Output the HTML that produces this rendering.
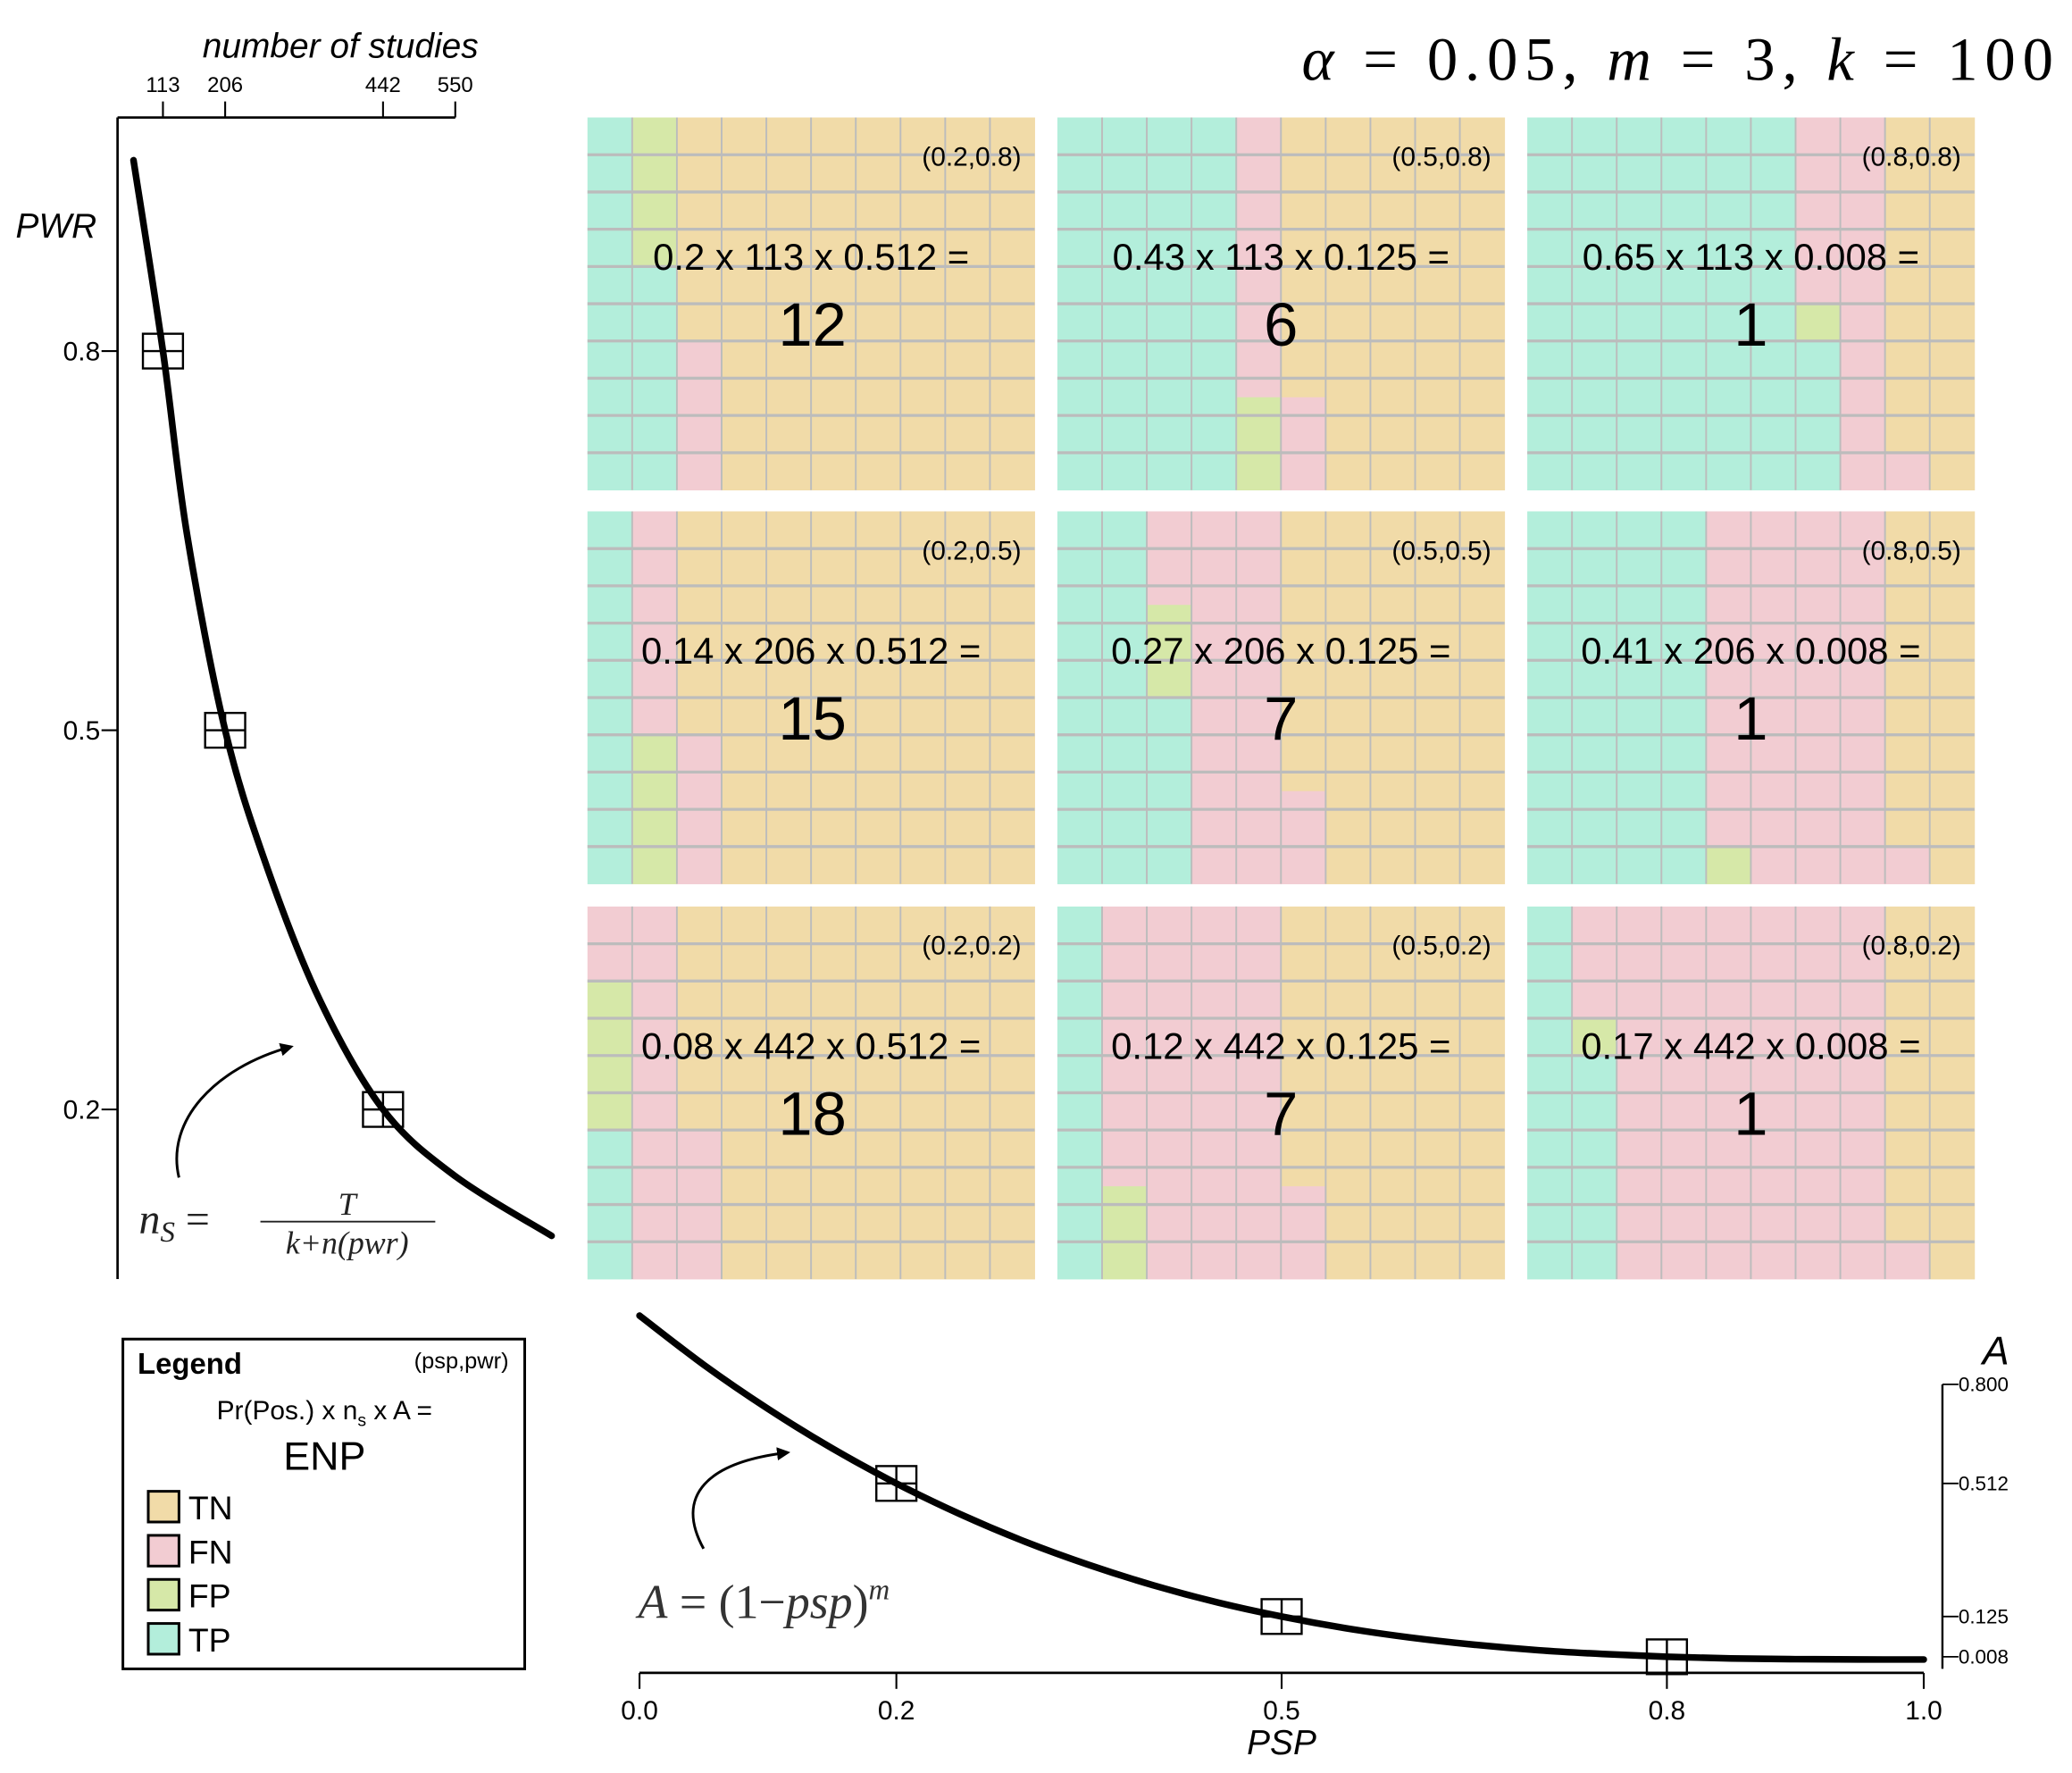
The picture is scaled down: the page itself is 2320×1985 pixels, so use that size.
<!DOCTYPE html>
<html><head><meta charset="utf-8">
<style>
html,body{margin:0;padding:0;background:#fff;}
svg{display:block;}
.sans{font-family:"Liberation Sans",sans-serif;}
.serif{font-family:"Liberation Serif",serif;}
</style></head>
<body>
<svg id="fig" width="2320" height="1985" viewBox="0 0 1552 1328" xmlns="http://www.w3.org/2000/svg">
<defs>
<marker id="ah" viewBox="0 0 10 10" refX="8" refY="5" markerWidth="5" markerHeight="5" orient="auto"><path d="M0,0 L10,5 L0,10 z" fill="#000"/></marker>
</defs>
<text class="serif" x="975" y="60" font-size="46" textLength="563" lengthAdjust="spacing"><tspan font-style="italic">α</tspan> = 0.05, <tspan font-style="italic">m</tspan> = 3, <tspan font-style="italic">k</tspan> = 100</text>
<g id="panels"></g>
<g id="left"></g>
<g id="bottom"></g>
<g>
<rect x="92" y="1003" width="301" height="247" fill="#fff" stroke="#000" stroke-width="2"/>
<text class="sans" x="103" y="1029" font-size="22" font-weight="bold">Legend</text>
<text class="sans" x="381" y="1025" font-size="17" text-anchor="end">(psp,pwr)</text>
<text class="sans" x="243" y="1063" font-size="20" text-anchor="middle">Pr(Pos.) x n<tspan font-size="13" dy="5">s</tspan><tspan dy="-5"> x A =</tspan></text>
<text class="sans" x="243" y="1101" font-size="30" text-anchor="middle">ENP</text>
<rect x="111" y="1117" width="23" height="23" fill="#f1dba8" stroke="#000" stroke-width="2"/>
<text class="sans" x="141" y="1138" font-size="25">TN</text>
<rect x="111" y="1150" width="23" height="23" fill="#f2ccd2" stroke="#000" stroke-width="2"/>
<text class="sans" x="141" y="1171" font-size="25">FN</text>
<rect x="111" y="1183" width="23" height="23" fill="#d6e8a8" stroke="#000" stroke-width="2"/>
<text class="sans" x="141" y="1204" font-size="25">FP</text>
<rect x="111" y="1216" width="23" height="23" fill="#b3eedb" stroke="#000" stroke-width="2"/>
<text class="sans" x="141" y="1237" font-size="25">TP</text>
</g>
</svg>
<script>
// panel data (row-major: pwr rows 0.8, 0.5, 0.2 ; psp cols 0.2, 0.5, 0.8)
const pspLabels = ["0.2","0.5","0.8"];
const pwrLabels = ["0.8","0.5","0.2"];
const tpCounts = [16,40,64, 10,25,40, 4,10,16];
const fpCounts = [4,2.5,1, 4,2.5,1, 4,2.5,1];
const fnCounts = [4,10,16, 10,25,40, 16,40,64];
const tnCounts = [76,47.5,19, 76,47.5,19, 76,47.5,19];
const prPos = ["0.2","0.43","0.65", "0.14","0.27","0.41", "0.08","0.12","0.17"];
const nsVals = ["113","113","113", "206","206","206", "442","442","442"];
const aVals = ["0.512","0.125","0.008", "0.512","0.125","0.008", "0.512","0.125","0.008"];
const enpVals = ["12","6","1", "15","7","1", "18","7","1"];
// left chart data
const nTicks = [113,206,442,550];
const pwrTicks = [0.8,0.5,0.2];
const nMarkers = [113,206,442];
const pwrMarkers = [0.8,0.5,0.2];
const curveN = [69,113,149,206,269,348,442,548,694];
const curvePwr = [0.951,0.8,0.655,0.5,0.391,0.286,0.2,0.148,0.1];
// bottom chart data
const pspTicks = [0.0,0.2,0.5,0.8,1.0];
const aTicks = [0.8,0.512,0.125,0.008];
const pspMarkers = [0.2,0.5,0.8];
const aMarkers = [0.512,0.125,0.008];
const curvePsp = [0,0.05,0.1,0.15,0.2,0.25,0.3,0.35,0.4,0.45,0.5,0.55,0.6,0.65,0.7,0.75,0.8,0.85,0.9,0.95,1.0];
const curveA = [1,0.857,0.729,0.614,0.512,0.422,0.343,0.275,0.216,0.166,0.125,0.091,0.064,0.043,0.027,0.016,0.008,0.003,0.001,0.0001,0];

const NS="http://www.w3.org/2000/svg";
function mk(tag, attrs, parent){const e=document.createElementNS(NS,tag);for(const k in attrs)e.setAttribute(k,attrs[k]);parent.appendChild(e);return e;}

// panels
const panelX=[440,792,1144], panelY=[88,383,679], PW=335, PH=279;
const colors=["#b3eedb","#d6e8a8","#f2ccd2","#f1dba8"];
const catNames=["tp","fp","fn","tn"];
const pg=document.getElementById('panels');
for(let i=0;i<9;i++){
  const r=Math.floor(i/3), c=i%3, x0=panelX[c], y0=panelY[r];
  const g=mk('g',{},pg);
  
  
  const segs=[tpCounts[i],fpCounts[i],fnCounts[i],tnCounts[i]];
  let s=0;
  const cw=PW/10, ch=PH/10;
  segs.forEach((v,k)=>{
    const e=s+v;
    for(let col=0;col<10;col++){
      const a=Math.max(s,col*10), b=Math.min(e,col*10+10);
      if(b>a){
        const rc=mk('rect',{x:x0+col*cw,y:y0+PH*(1-(b-col*10)/10),width:cw+0.3,height:PH*(b-a)/10+0.3,fill:colors[k]},g);
        
        
      }
    }
    s=e;
  });
  for(let j=1;j<10;j++){
    const vl=mk('line',{x1:x0+j*cw,y1:y0,x2:x0+j*cw,y2:y0+PH,stroke:"#bcbcbc","stroke-width":1.3},g);
    
    
    const hl=mk('line',{x1:x0,y1:y0+j*ch,x2:x0+PW,y2:y0+j*ch,stroke:"#bcbcbc","stroke-width":2.2},g);
    
    
  }
  const t1=mk('text',{x:x0+PW-10,y:y0+36,"font-size":20,"text-anchor":"end",class:"sans"},g);
  t1.textContent='('+pspLabels[c]+','+pwrLabels[r]+')';
  
  
  const t2=mk('text',{x:x0+PW/2,y:y0+114,"font-size":28,"text-anchor":"middle",class:"sans"},g);
  t2.textContent=prPos[i]+' x '+nsVals[i]+' x '+aVals[i]+' =';
  
  
  const t3=mk('text',{x:x0+PW/2+(c==0?1:0),y:y0+171,"font-size":46,"text-anchor":"middle",class:"sans"},g);
  t3.textContent=enpVals[i];
  
  
}

function smooth(pts){
  let d='M'+pts[0][0]+','+pts[0][1];
  for(let i=0;i<pts.length-1;i++){
    const p0=pts[Math.max(0,i-1)],p1=pts[i],p2=pts[i+1],p3=pts[Math.min(pts.length-1,i+2)];
    const c1=[p1[0]+(p2[0]-p0[0])/6,p1[1]+(p2[1]-p0[1])/6];
    const c2=[p2[0]-(p3[0]-p1[0])/6,p2[1]-(p3[1]-p1[1])/6];
    d+=' C'+c1[0]+','+c1[1]+' '+c2[0]+','+c2[1]+' '+p2[0]+','+p2[1];
  }
  return d;
}
function marker(g,x,y,name){
  const m=mk('g',{},g);
  
  
  mk('rect',{x:x-15,y:y-13,width:30,height:26,fill:"none",stroke:"#000","stroke-width":1.6},m);
  mk('line',{x1:x,y1:y-13,x2:x,y2:y+13,stroke:"#000","stroke-width":1.6},m);
  mk('line',{x1:x-15,y1:y,x2:x+15,y2:y,stroke:"#000","stroke-width":1.6},m);
}

// left chart
const L=document.getElementById('left');
const nx=n=>122+(n-113)*0.5011;
const py=p=>831-(p-0.2)*946.7;
let e;
e=mk('line',{x1:88,y1:88,x2:88,y2:958,stroke:"#000","stroke-width":1.8},L);
 
e=mk('line',{x1:88,y1:88,x2:nx(550),y2:88,stroke:"#000","stroke-width":1.8},L);
 
nTicks.forEach(n=>{
  e=mk('line',{x1:nx(n),y1:88,x2:nx(n),y2:76,stroke:"#000","stroke-width":1.4},L);
   
  e=mk('text',{x:nx(n),y:69,"font-size":16,"text-anchor":"middle",class:"sans"},L);
  e.textContent=String(n);
   
});
pwrTicks.forEach(p=>{
  e=mk('line',{x1:76,y1:py(p),x2:88,y2:py(p),stroke:"#000","stroke-width":1.4},L);
   
  e=mk('text',{x:75,y:py(p)+7,"font-size":20,"text-anchor":"end",class:"sans"},L);
  e.textContent=p.toFixed(1);
   
});
e=mk('text',{x:255,y:43,"font-size":26,"text-anchor":"middle","font-style":"italic",class:"sans"},L);
e.textContent='number of studies';
 
e=mk('text',{x:42,y:178,"font-size":26,"text-anchor":"middle","font-style":"italic",class:"sans"},L);
e.textContent='PWR';
 
e=mk('path',{d:smooth(curveN.map((n,i)=>[nx(n),py(curvePwr[i])])),fill:"none",stroke:"#000","stroke-width":5,"stroke-linecap":"round"},L);
 
nMarkers.forEach((n,i)=>marker(L,nx(n),py(pwrMarkers[i]),'studies-marker'));
e=mk('path',{d:"M134,882 C124,840 160,800 218,784",fill:"none",stroke:"#000","stroke-width":2,"marker-end":"url(#ah)"},L);
 
e=mk('text',{x:104,y:924,"font-size":32,"font-style":"italic",class:"serif",fill:"#222"},L);
e.innerHTML='n<tspan font-size="22" dy="6">S</tspan><tspan dy="-6" font-style="normal"> = </tspan>';
 
e=mk('text',{x:260,y:910,"font-size":24,"font-style":"italic","text-anchor":"middle",class:"serif",fill:"#222"},L);
e.textContent='T';
 
e=mk('line',{x1:195,y1:915,x2:326,y2:915,stroke:"#222","stroke-width":1.3},L);
 
e=mk('text',{x:260,y:939,"font-size":24,"font-style":"italic","text-anchor":"middle",class:"serif",fill:"#222"},L);
e.textContent='k+n(pwr)';
 

// bottom chart
const B=document.getElementById('bottom');
const sx=p=>479+p*962;
const ay=a=>1243-a*257.6;
e=mk('line',{x1:sx(0),y1:1253,x2:sx(1),y2:1253,stroke:"#000","stroke-width":1.8},B);
 
pspTicks.forEach(p=>{
  e=mk('line',{x1:sx(p),y1:1253,x2:sx(p),y2:1265,stroke:"#000","stroke-width":1.4},B);
   
  e=mk('text',{x:sx(p),y:1288,"font-size":20,"text-anchor":"middle",class:"sans"},B);
  e.textContent=p.toFixed(1);
   
});
e=mk('text',{x:960,y:1314,"font-size":26,"text-anchor":"middle","font-style":"italic",class:"sans"},B);
e.textContent='PSP';
 
e=mk('line',{x1:1455,y1:ay(0.8),x2:1455,y2:1250,stroke:"#000","stroke-width":1.6},B);
 
aTicks.forEach(a=>{
  e=mk('line',{x1:1455,y1:ay(a),x2:1467,y2:ay(a),stroke:"#000","stroke-width":1.2},B);
   
  e=mk('text',{x:1467,y:ay(a)+5,"font-size":15,class:"sans"},B);
  e.textContent=a.toFixed(3);
   
});
e=mk('text',{x:1495,y:1022,"font-size":30,"text-anchor":"middle","font-style":"italic",class:"sans"},B);
e.textContent='A';
 
e=mk('path',{d:smooth(curvePsp.map((p,i)=>[sx(p),ay(curveA[i])])),fill:"none",stroke:"#000","stroke-width":5,"stroke-linecap":"round"},B);
 
pspMarkers.forEach((p,i)=>marker(B,sx(p),ay(aMarkers[i]),'a-marker'));
e=mk('path',{d:"M527,1160 C505,1120 530,1095 590,1088",fill:"none",stroke:"#000","stroke-width":2,"marker-end":"url(#ah)"},B);
 
e=mk('text',{x:478,y:1212,"font-size":36,class:"serif",fill:"#333"},B);
e.innerHTML='<tspan font-style="italic">A</tspan> = (1−<tspan font-style="italic">psp</tspan>)<tspan font-style="italic" font-size="22" dy="-14">m</tspan>';
 
</script>
</body></html>
